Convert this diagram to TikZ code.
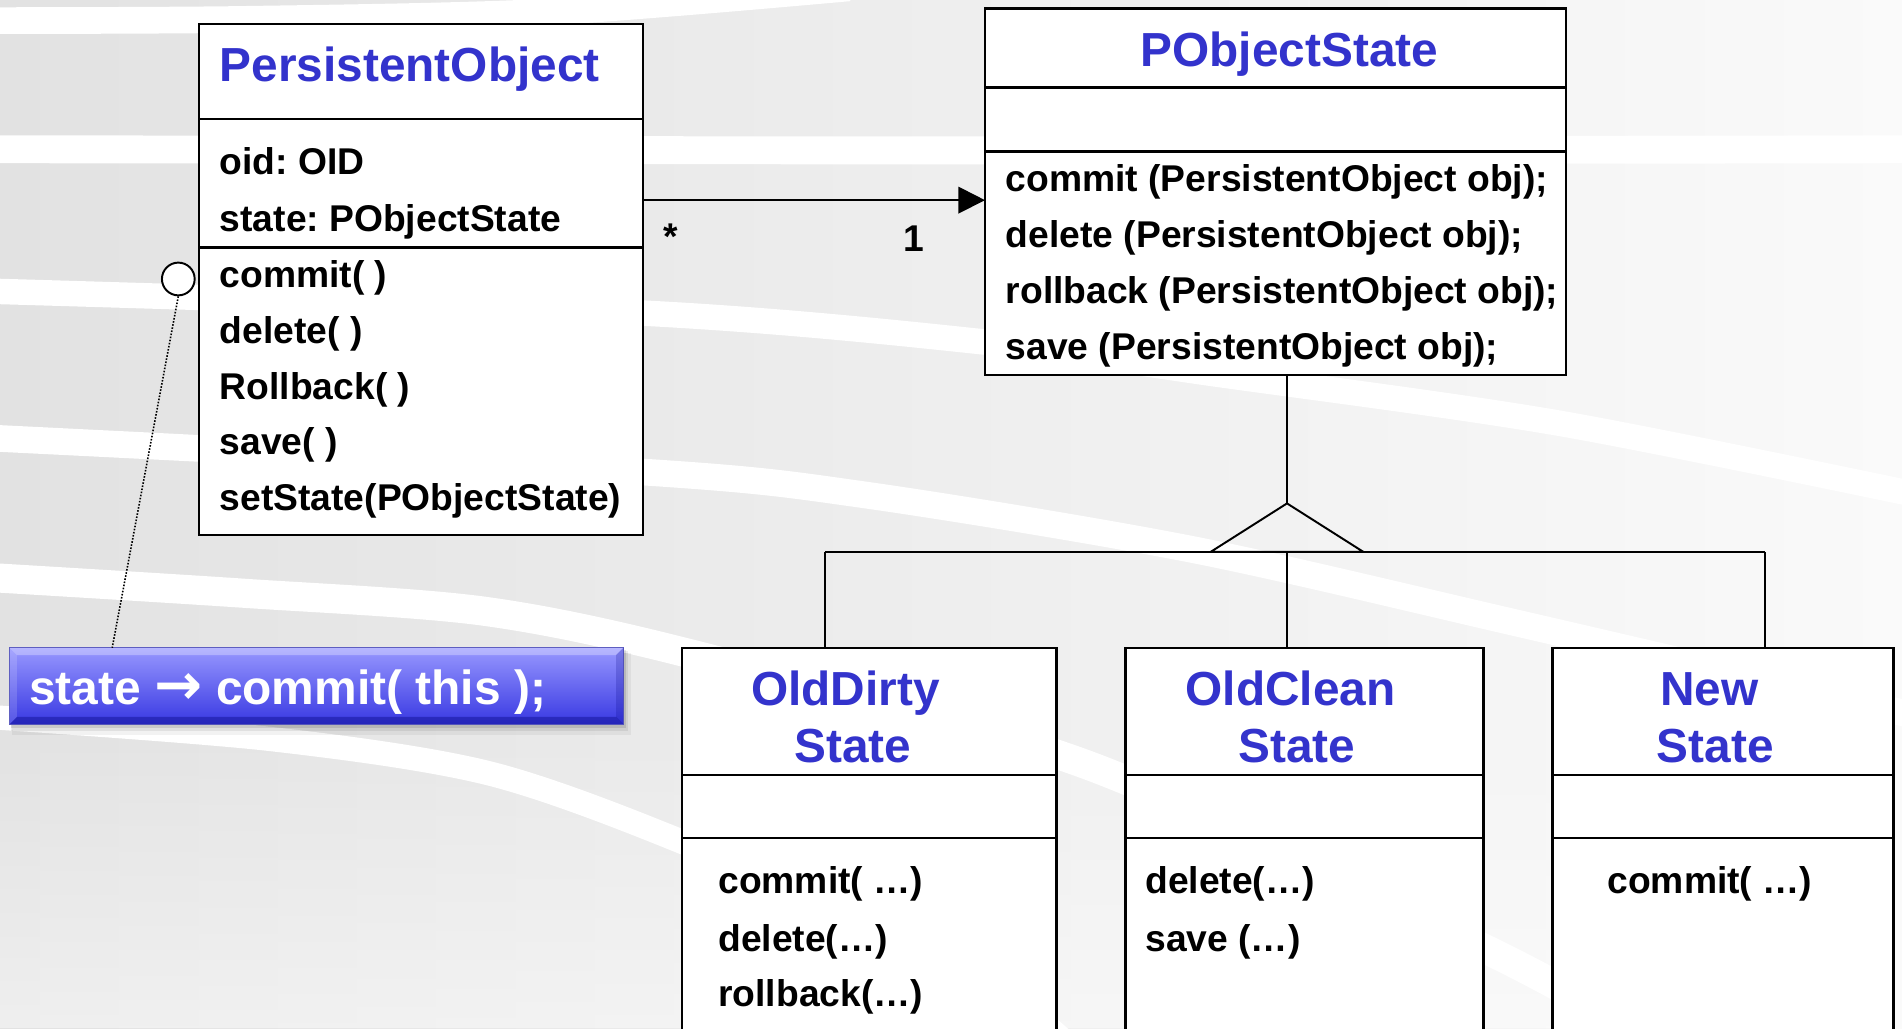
\documentclass[tikz,border=0pt]{standalone}
\usepackage{graphicx}
\usepackage{fontspec}
\setmainfont{Liberation Sans}
\newfontfamily\arrowfont{DejaVu Sans}
\usetikzlibrary{arrows.meta,calc,fadings}
\frenchspacing

\definecolor{titleblue}{RGB}{51,51,204}
\definecolor{bgleft}{RGB}{226,226,226}
\definecolor{bgright}{RGB}{250,250,250}
\definecolor{notetop}{RGB}{152,152,255}
\definecolor{notemid}{RGB}{108,108,250}
\definecolor{notebot}{RGB}{56,56,226}
\definecolor{noteedge}{RGB}{88,88,190}

\tikzfading[name=lowfade, top color=transparent!100, bottom color=transparent!55]

\tikzset{
  band/.style={draw=white, line width=22pt},
  classbox/.style={draw=black, line width=2pt, fill=white, rectangle,
                   inner sep=0pt, outer sep=0pt, anchor=north west},
  sepline/.style={draw=black, line width=2pt},
  titletext/.style={inner sep=0pt, text=titleblue,
                    font=\fontsize{39.4pt}{47pt}\selectfont\bfseries},
  bodytext/.style={inner sep=0pt, text=black,
                   font=\fontsize{30.7pt}{46pt}\selectfont\bfseries},
  notetext/.style={inner sep=0pt, text=white,
                   font=\fontsize{39.5pt}{47pt}\selectfont\bfseries},
  notebox/.style={rectangle, anchor=north west, inner sep=0pt, outer sep=0pt,
                  top color=notetop, middle color=notemid, bottom color=notebot,
                  draw=noteedge, line width=0.8pt},
  assoc/.style={draw=black, line width=1.6pt, -{Triangle[length=22pt,width=22pt]}},
  genline/.style={draw=black, line width=1.6pt},
  dotline/.style={draw=black, line width=1.3pt, dash pattern=on 1.3pt off 1.3pt},
}

\begin{document}
\begin{tikzpicture}[x=1pt,y=-1pt]
\useasboundingbox (0,0) rectangle (1568,847.5);
\clip (0,0) rectangle (1568,847.5);

% slide background: grey wash with white swooshes
\fill[left color=bgleft, right color=bgright] (0,0) rectangle (1568,847.5);
\fill[white, path fading=lowfade] (0,600) rectangle (1568,847.5);
\draw[band] plot[smooth] coordinates {(-10,17) (200,16) (450,10) (700,-10)};
\draw[band, line width=23pt] plot[smooth] coordinates {(-10,123) (800,124) (1600,123)};
\draw[band, line width=21pt] plot[smooth] coordinates
  {(-10,240) (528,258) (812,282) (1000,308) (1286,349) (1600,412)};
\draw[band] plot[smooth] coordinates
  {(-10,361) (528,389) (713,408) (983,453) (1252,514) (1600,595)};
\draw[band, line width=24pt] plot[smooth] coordinates
  {(-10,476) (200,489) (400,504) (577,541) (900,632) (1240,790) (1400,880)};
\draw[band, line width=20pt] plot[smooth] coordinates
  {(-10,591) (221,609) (405,638) (577,700) (800,800) (900,880)};

% ---------- PersistentObject ----------
\node[classbox, minimum width=366pt, minimum height=421pt] (po) at (164,20) {};
\draw[sepline] ($(po.north west)+(0,78)$) -- ($(po.north east)+(0,78)$);
\draw[sepline] ($(po.north west)+(0,184)$) -- ($(po.north east)+(0,184)$);
\node[titletext, anchor=base west] (po-title) at (181,67) {PersistentObject};
\node[bodytext, anchor=base west] (po-a1) at (181,144) {oid: OID};
\node[bodytext, anchor=base west] (po-a2) at (181,191) {state: PObjectState};
\node[bodytext, anchor=base west] (po-m1) at (181,237) {commit( )};
\node[bodytext, anchor=base west] (po-m2) at (181,283) {delete( )};
\node[bodytext, anchor=base west] (po-m3) at (181,329) {Rollback( )};
\node[bodytext, anchor=base west] (po-m4) at (181,375) {save( )};
\node[bodytext, anchor=base west] (po-m5) at (181,421) {setState(PObjectState)};

% ---------- PObjectState ----------
\node[classbox, minimum width=479pt, minimum height=302pt] (ps) at (812,7) {};
\draw[sepline] ($(ps.north west)+(0,65)$) -- ($(ps.north east)+(0,65)$);
\draw[sepline] ($(ps.north west)+(0,118)$) -- ($(ps.north east)+(0,118)$);
\node[titletext, anchor=base] (ps-title) at (1063,55) {PObjectState};
\node[bodytext, anchor=base west] (ps-m1) at (829,158) {commit (PersistentObject obj);};
\node[bodytext, anchor=base west] (ps-m2) at (829,204) {delete (PersistentObject obj);};
\node[bodytext, anchor=base west] (ps-m3) at (829,250) {rollback (PersistentObject obj);};
\node[bodytext, anchor=base west] (ps-m4) at (829,296) {save (PersistentObject obj);};

% ---------- concrete states ----------
\node[classbox, minimum width=309pt, minimum height=336pt] (od) at (562,534) {};
\draw[sepline] ($(od.north west)+(0,105)$) -- ($(od.north east)+(0,105)$);
\draw[sepline] ($(od.north west)+(0,157)$) -- ($(od.north east)+(0,157)$);
\node[titletext, anchor=base] (od-t1) at (697,582) {OldDirty};
\node[titletext, anchor=base] (od-t2) at (703,629) {State};
\node[bodytext, anchor=base west] (od-m1) at (592,737) {commit( …)};
\node[bodytext, anchor=base west] (od-m2) at (592,784) {delete(…)};
\node[bodytext, anchor=base west] (od-m3) at (592,830) {rollback(…)};

\node[classbox, minimum width=295pt, minimum height=336pt] (oc) at (928,534) {};
\draw[sepline] ($(oc.north west)+(0,105)$) -- ($(oc.north east)+(0,105)$);
\draw[sepline] ($(oc.north west)+(0,157)$) -- ($(oc.north east)+(0,157)$);
\node[titletext, anchor=base] (oc-t1) at (1064,582) {OldClean};
\node[titletext, anchor=base] (oc-t2) at (1069,629) {State};
\node[bodytext, anchor=base west] (oc-m1) at (944,737) {delete(…)};
\node[bodytext, anchor=base west] (oc-m2) at (944,784) {save (…)};

\node[classbox, minimum width=281pt, minimum height=336pt] (nw) at (1280,534) {};
\draw[sepline] ($(nw.north west)+(0,105)$) -- ($(nw.north east)+(0,105)$);
\draw[sepline] ($(nw.north west)+(0,157)$) -- ($(nw.north east)+(0,157)$);
\node[titletext, anchor=base] (nw-t1) at (1409,582) {New};
\node[titletext, anchor=base] (nw-t2) at (1414,629) {State};
\node[bodytext, anchor=base west] (nw-m1) at (1325,737) {commit( …)};

% ---------- association ----------
\coordinate (assocY) at (0,165);
\draw[assoc] (po.east |- assocY) -- (ps.west |- assocY);
\node[bodytext, anchor=base west] (mult-many) at (547,206) {*};
\node[bodytext, anchor=base west] (mult-one) at (745,207) {1};

% ---------- generalization ----------
\coordinate (apex) at (1061,415);
\coordinate (triL) at (998,455);
\coordinate (triR) at (1124,455);
\coordinate (barL) at (680,455);
\coordinate (barM) at (1061,455);
\coordinate (barR) at (1455,455);
\draw[genline] (ps.south -| apex) -- (apex);
\draw[genline, line join=miter] (apex) -- (triL) -- (triR) -- cycle;
\draw[genline, line width=2pt] (barL) -- (barR);
\draw[genline] (barL) -- (od.north -| barL);
\draw[genline] (barM) -- (oc.north -| barM);
\draw[genline] (barR) -- (nw.north -| barR);

% ---------- note with call ----------
\fill[black, opacity=0.05] (10,538) rectangle (520,606);
\fill[black, opacity=0.07] (9,537) rectangle (518,603);
\fill[black, opacity=0.10] (9,536) rectangle (516,600);
\node[notebox, minimum width=506pt, minimum height=63pt] (note) at (8,534) {};
\fill[white, opacity=0.30] (note.north west) -- (note.north east)
  -- ($(note.north east)+(-6,6)$) -- ($(note.north west)+(6,6)$) -- cycle;
\fill[white, opacity=0.15] (note.north west) -- ($(note.north west)+(6,6)$)
  -- ($(note.south west)+(6,-6)$) -- (note.south west) -- cycle;
\fill[black!55!blue, opacity=0.35] (note.south west) -- (note.south east)
  -- ($(note.south east)+(-6,-6)$) -- ($(note.south west)+(6,-6)$) -- cycle;
\fill[black!50!blue, opacity=0.20] (note.north east) -- (note.south east)
  -- ($(note.south east)+(-6,-6)$) -- ($(note.north east)+(-6,6)$) -- cycle;
\node[notetext, anchor=base west] (note-text) at (24,581)
  {state \scalebox{1.2}{\arrowfont\bfseries →} commit( this );};

\node[draw=black, circle, line width=1.6pt, fill=white, minimum size=27pt,
      inner sep=0pt] (lolli) at (147,230) {};
\draw[dotline] (lolli.south) -- ($(note.north west)!0.167!(note.north east)$);
\end{tikzpicture}
\end{document}
